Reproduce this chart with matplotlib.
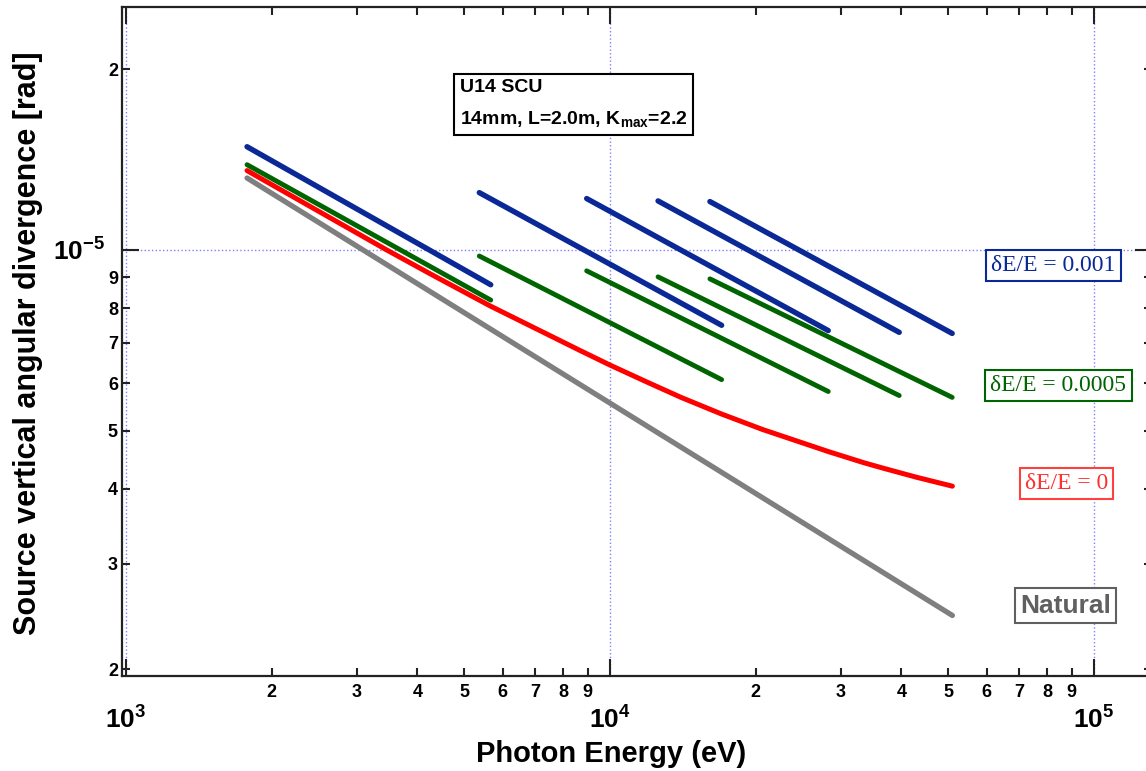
import matplotlib
matplotlib.use("Agg")
import matplotlib.pyplot as plt
from matplotlib.ticker import FixedLocator, FuncFormatter
import numpy as np

plt.rcParams["font.family"] = ["Liberation Sans", "DejaVu Sans"]
plt.rcParams["font.weight"] = "bold"
plt.rcParams["mathtext.fontset"] = "custom"
plt.rcParams["mathtext.rm"] = "Liberation Sans:bold"
plt.rcParams["mathtext.it"] = "Liberation Sans:bold"
plt.rcParams["mathtext.bf"] = "Liberation Sans:bold"

# natural photon divergence
energy_natural = [1778, 51000]
div_natural = [1.318e-5, 2.46e-6]

# dE/E = 0 (photon + electron beam)
energy_zero = [1778, 3456, 4246, 5649, 8670, 10000, 11945, 14020, 16990,
               20690, 28350, 33480, 36640, 43030, 51000]
div_zero = [1.356e-5, 1.00e-5, 9.13e-6, 8.07e-6, 6.80e-6, 6.43e-6, 6.02e-6, 5.68e-6, 5.33e-6,
            5.02e-6, 4.61e-6, 4.42e-6, 4.33e-6, 4.18e-6, 4.04e-6]

# harmonics 1,3,5,7,9 tuning ranges
harm_start = [1778, 5370, 8950, 12570, 16090]
harm_end = [5670, 17010, 28250, 39600, 50950]

# dE/E = 0.0005
div_0005_start = [1.387e-5, 9.77e-6, 9.23e-6, 9.02e-6, 8.95e-6]
div_0005_end = [8.25e-6, 6.08e-6, 5.81e-6, 5.72e-6, 5.68e-6]

# dE/E = 0.001
div_001_start = [1.486e-5, 1.246e-5, 1.218e-5, 1.207e-5, 1.204e-5]
div_001_end = [8.75e-6, 7.49e-6, 7.34e-6, 7.29e-6, 7.26e-6]

c_blue = "#0a2896"
c_green = "#006400"
c_red = "#ff0000"
c_gray = "#7f7f7f"

fig = plt.figure(figsize=(11.46, 7.71), dpi=100)
ax = fig.add_axes([0.1065, 0.1232, 0.8988, 0.8677])

line_kw = dict(solid_capstyle="round", solid_joinstyle="round")
ax.plot(energy_natural, div_natural, color=c_gray, lw=3.8, **line_kw)
ax.plot(energy_zero, div_zero, color=c_red, lw=3.6, **line_kw)
for e0, e1, d0, d1 in zip(harm_start, harm_end, div_0005_start, div_0005_end):
    ax.plot([e0, e1], [d0, d1], color=c_green, lw=3.5, **line_kw)
for e0, e1, d0, d1 in zip(harm_start, harm_end, div_001_start, div_001_end):
    ax.plot([e0, e1], [d0, d1], color=c_blue, lw=3.9, **line_kw)

ax.set_xscale("log")
ax.set_yscale("log")
ax.set_xlim(981, 131900)
ax.set_ylim(1.95e-6, 2.54e-5)

x_major = [1e3, 1e4, 1e5]
x_minor = [m * 10.0 ** d for d in (3, 4, 5) for m in range(2, 10)]
y_major = [1e-5]
y_minor = [m * 10.0 ** d for d in (-6, -5) for m in range(2, 10)]

ax.xaxis.set_major_locator(FixedLocator(x_major))
ax.xaxis.set_minor_locator(FixedLocator(x_minor))
ax.yaxis.set_major_locator(FixedLocator(y_major))
ax.yaxis.set_minor_locator(FixedLocator(y_minor))


def major_fmt(v, pos):
    return r"$\mathbf{10^{%d}}$" % int(round(np.log10(v)))


def minor_fmt(v, pos):
    return "%d" % int(round(v / 10.0 ** np.floor(np.log10(v) + 1e-9)))


ax.xaxis.set_major_formatter(FuncFormatter(major_fmt))
ax.xaxis.set_minor_formatter(FuncFormatter(minor_fmt))
ax.yaxis.set_major_formatter(FuncFormatter(major_fmt))
ax.yaxis.set_minor_formatter(FuncFormatter(minor_fmt))

ax.tick_params(which="both", direction="in", top=True, right=True, width=1.5, color="#222222")
ax.tick_params(which="major", length=12, labelsize=19)
ax.tick_params(which="minor", length=6, labelsize=13)
ax.tick_params(axis="x", which="major", pad=22)
ax.tick_params(axis="x", which="minor", pad=6)
ax.tick_params(axis="y", which="major", pad=12)
ax.tick_params(axis="y", which="minor", pad=3)

for s in ax.spines.values():
    s.set_linewidth(1.6)
    s.set_color("#222222")

ax.grid(which="major", color="#8080ff", linestyle=":", linewidth=1.0)
ax.grid(which="minor", visible=False)

ax.set_xlabel("Photon Energy (eV)", fontsize=21, fontweight="bold")
ax.xaxis.set_label_coords(0.475, -0.095)
ax.set_ylabel("Source vertical angular divergence [rad]", fontsize=22, fontweight="bold", va="center")
ax.yaxis.set_label_coords(-0.091, 0.497)

ax.text(0.328, 0.893, "U14 SCU\n14mm, L=2.0m, K$_{max}$=2.2", transform=ax.transAxes,
        ha="left", va="top", fontsize=14, fontweight="bold", linespacing=1.9,
        bbox=dict(boxstyle="square,pad=0.3", fc="white", ec="black", lw=1.5))

labels = [
    (0.904, 0.614, "δE/E = 0.001", c_blue, c_blue),
    (0.909, 0.434, "δE/E = 0.0005", c_green, c_green),
    (0.917, 0.288, "δE/E = 0", "#ff3030", "#ff4040"),
]
for xf, yf, txt, tc, ec in labels:
    ax.text(xf, yf, txt, transform=ax.transAxes, ha="center", va="center",
            fontsize=17, fontweight="normal", color=tc,
            family=["Liberation Serif", "DejaVu Serif"],
            bbox=dict(boxstyle="square,pad=0.22", fc="white", ec=ec, lw=1.5))

ax.text(0.916, 0.105, "Natural", transform=ax.transAxes, ha="center", va="center",
        fontsize=19, fontweight="bold", color="#606060",
        bbox=dict(boxstyle="square,pad=0.2", fc="white", ec="#606060", lw=1.5))

fig.savefig("out.png", dpi=100)
